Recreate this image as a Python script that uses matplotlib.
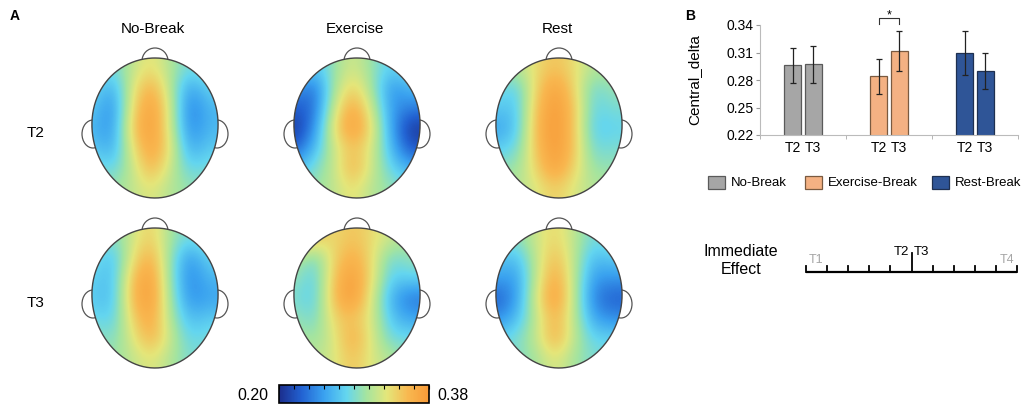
import numpy as np
import matplotlib.pyplot as plt
from matplotlib.colors import LinearSegmentedColormap, Normalize
from matplotlib.patches import Ellipse, PathPatch, Rectangle
from matplotlib.path import Path
from matplotlib.cm import ScalarMappable

plt.rcParams['font.family'] = ['Liberation Sans', 'DejaVu Sans']

## data

conditions = ["No-Break", "Exercise", "Rest"]
sessions = ["T2", "T3"]
legend_labels = ["No-Break", "Exercise-Break", "Rest-Break"]

# panel B : Central_delta means and error bars
central_delta_t2 = [0.296, 0.284, 0.310]
central_delta_t3 = [0.297, 0.312, 0.290]
err_t2 = [0.019, 0.019, 0.024]
err_t3 = [0.0205, 0.022, 0.020]

# timeline
timeline_points = ["T1", "T2", "T3", "T4"]
timeline_steps = 10

# colour scale of the topographies
vmin, vmax = 0.20, 0.38

# topographies (rows : front -> back, cols : left -> right)
topo_nobreak_t2 = [
    [0.300, 0.285, 0.315, 0.335, 0.310, 0.285, 0.300],
    [0.285, 0.255, 0.325, 0.365, 0.315, 0.250, 0.280],
    [0.275, 0.240, 0.335, 0.378, 0.325, 0.235, 0.265],
    [0.265, 0.245, 0.345, 0.380, 0.325, 0.240, 0.265],
    [0.275, 0.255, 0.330, 0.372, 0.335, 0.255, 0.275],
    [0.290, 0.280, 0.315, 0.360, 0.320, 0.280, 0.290],
    [0.305, 0.300, 0.315, 0.330, 0.310, 0.300, 0.295],
]
topo_exercise_t2 = [
    [0.300, 0.270, 0.300, 0.325, 0.300, 0.275, 0.295],
    [0.250, 0.230, 0.305, 0.345, 0.305, 0.245, 0.265],
    [0.225, 0.230, 0.320, 0.370, 0.320, 0.250, 0.240],
    [0.205, 0.245, 0.335, 0.380, 0.335, 0.255, 0.205],
    [0.225, 0.265, 0.320, 0.350, 0.325, 0.265, 0.220],
    [0.265, 0.290, 0.315, 0.362, 0.320, 0.280, 0.260],
    [0.300, 0.300, 0.315, 0.335, 0.310, 0.300, 0.290],
]
topo_rest_t2 = [
    [0.315, 0.310, 0.335, 0.350, 0.335, 0.310, 0.315],
    [0.290, 0.275, 0.340, 0.375, 0.340, 0.285, 0.300],
    [0.275, 0.270, 0.350, 0.380, 0.350, 0.280, 0.290],
    [0.255, 0.270, 0.355, 0.382, 0.350, 0.275, 0.280],
    [0.275, 0.285, 0.350, 0.380, 0.350, 0.285, 0.290],
    [0.300, 0.300, 0.340, 0.375, 0.340, 0.300, 0.300],
    [0.315, 0.310, 0.325, 0.345, 0.325, 0.310, 0.310],
]
topo_nobreak_t3 = [
    [0.305, 0.290, 0.320, 0.345, 0.305, 0.285, 0.300],
    [0.290, 0.265, 0.330, 0.365, 0.300, 0.245, 0.280],
    [0.280, 0.265, 0.350, 0.378, 0.300, 0.240, 0.265],
    [0.275, 0.265, 0.355, 0.380, 0.305, 0.245, 0.255],
    [0.285, 0.275, 0.340, 0.370, 0.310, 0.265, 0.275],
    [0.300, 0.290, 0.325, 0.362, 0.320, 0.280, 0.290],
    [0.305, 0.300, 0.315, 0.330, 0.310, 0.290, 0.290],
]
topo_exercise_t3 = [
    [0.370, 0.350, 0.335, 0.350, 0.335, 0.320, 0.310],
    [0.315, 0.285, 0.340, 0.365, 0.335, 0.285, 0.300],
    [0.300, 0.275, 0.350, 0.378, 0.335, 0.275, 0.280],
    [0.290, 0.275, 0.355, 0.380, 0.325, 0.260, 0.235],
    [0.300, 0.285, 0.340, 0.350, 0.325, 0.270, 0.255],
    [0.310, 0.300, 0.325, 0.365, 0.325, 0.285, 0.285],
    [0.325, 0.310, 0.325, 0.350, 0.325, 0.310, 0.300],
]
topo_rest_t3 = [
    [0.300, 0.295, 0.320, 0.340, 0.315, 0.285, 0.300],
    [0.275, 0.265, 0.315, 0.355, 0.315, 0.265, 0.275],
    [0.255, 0.250, 0.315, 0.370, 0.315, 0.250, 0.250],
    [0.225, 0.250, 0.325, 0.380, 0.315, 0.240, 0.225],
    [0.245, 0.265, 0.315, 0.360, 0.315, 0.255, 0.245],
    [0.280, 0.290, 0.315, 0.365, 0.315, 0.280, 0.280],
    [0.290, 0.290, 0.305, 0.330, 0.305, 0.290, 0.290],
]

topos = [[topo_nobreak_t2, topo_exercise_t2, topo_rest_t2],
         [topo_nobreak_t3, topo_exercise_t3, topo_rest_t3]]

bar_colors = ["#a6a6a6", "#f4b183", "#2f5597"]
edge_colors = ["#5a5a5a", "#7a5a40", "#1f3050"]

cmap = LinearSegmentedColormap.from_list("topo", [
    (0.00, "#1b2d8c"), (0.15, "#2262d2"), (0.30, "#3aa2f0"),
    (0.45, "#64d6ef"), (0.58, "#a4e4a0"), (0.72, "#e4e67a"),
    (0.86, "#f8b850"), (1.00, "#f89a38")])
norm = Normalize(vmin, vmax)


fig = plt.figure(figsize=(10.21, 4.07), dpi=100)

# une couche en pixels pour le panneau A, la légende et la frise
ax0 = fig.add_axes([0, 0, 1, 1])
ax0.set_xlim(0, 1021)
ax0.set_ylim(407, 0)
ax0.axis('off')


def draw_head(ax, cx, cy, grid):
    rx, ry = 63, 70
    for side in (-1, 1):
        ax.add_patch(Ellipse((cx + side * (rx - 1), cy + 6), 22, 28,
                             fc='white', ec='#555555', lw=0.9, zorder=1))
    ax.add_patch(Ellipse((cx, cy - ry + 3), 26, 26,
                         fc='white', ec='#555555', lw=0.9, zorder=1))
    t = np.linspace(0, 2 * np.pi, 300)
    hx = cx + rx * np.sin(t) * (1 + 0.05 * np.cos(t))
    hy = cy - ry * np.cos(t)
    head = PathPatch(Path(np.column_stack([hx, hy])), fc='none',
                     ec='#444444', lw=1.0, zorder=3)
    ax.add_patch(head)
    im = ax.imshow(np.array(grid), cmap=cmap, norm=norm,
                   extent=(cx - rx * 1.06 - 4, cx + rx * 1.06 - 4, cy + ry, cy - ry),
                   interpolation='bicubic', aspect='auto', zorder=2)
    im.set_clip_path(head)


head_x = [155, 357, 559]
head_y = [128, 298]

for j, name in enumerate(conditions):
    ax0.text(head_x[j] - 2, 29, name, ha='center', va='center', fontsize=11)
for i, s in enumerate(sessions):
    ax0.text(36, head_y[i] + 5, s, ha='center', va='center', fontsize=11)
    for j in range(3):
        draw_head(ax0, head_x[j], head_y[i], topos[i][j])

ax0.set_xlim(0, 1021)
ax0.set_ylim(407, 0)

ax0.text(15, 16, "A", ha='center', va='center', fontsize=10, fontweight='bold')
ax0.text(690, 16, "B", ha='center', va='center', fontsize=10, fontweight='bold')

# barre de couleur
cax = fig.add_axes([279 / 1021, (407 - 403) / 407, 150 / 1021, 18 / 407])
cb = fig.colorbar(ScalarMappable(norm=norm, cmap=cmap), cax=cax,
                  orientation='horizontal')
cb.set_ticks(np.linspace(vmin, vmax, 11))
cax.tick_params(axis='x', top=True, bottom=False, direction='in', length=3,
                width=0.8, labelbottom=False, labeltop=False)
cb.outline.set_linewidth(1.2)
ax0.text(268, 396, "%.2f" % vmin, ha='right', va='center', fontsize=11.5)
ax0.text(437, 396, "%.2f" % vmax, ha='left', va='center', fontsize=11.5)

## panneau B : barres
ax = fig.add_axes([760 / 1021, (407 - 135) / 407, 258 / 1021, 110 / 407])
x = np.arange(len(conditions))
ax.bar(x - 0.12, central_delta_t2, 0.2, yerr=err_t2, color=bar_colors,
       edgecolor=edge_colors, linewidth=0.9, capsize=2.5,
       error_kw=dict(elinewidth=0.9, ecolor='#222222', capthick=0.9))
ax.bar(x + 0.12, central_delta_t3, 0.2, yerr=err_t3, color=bar_colors,
       edgecolor=edge_colors, linewidth=0.9, capsize=2.5,
       error_kw=dict(elinewidth=0.9, ecolor='#222222', capthick=0.9))
ax.set_xlim(-0.5, 2.5)
ax.set_ylim(0.22, 0.34)
ax.set_yticks([0.22, 0.25, 0.28, 0.31, 0.34])
ax.set_yticklabels(["0.22", "0.25", "0.28", "0.31", "0.34"], fontsize=10)
ax.set_xticks(np.concatenate([x - 0.12, x + 0.12]))
ax.set_xticklabels(["T2"] * 3 + ["T3"] * 3, fontsize=10)
ax.set_xticks([-0.5, 0.5, 1.5, 2.5], minor=True)
ax.tick_params(axis='x', which='major', length=0, pad=4)
ax.tick_params(axis='x', which='minor', length=3, color='#aaaaaa')
ax.tick_params(axis='y', length=3, color='#999999', pad=1.5)
for sp in ['top', 'right']:
    ax.spines[sp].set_visible(False)
for sp in ['left', 'bottom']:
    ax.spines[sp].set_color('#bbbbbb')
ax.set_ylabel("Central_delta", fontsize=11, labelpad=18)
ax.patch.set_alpha(0)

# étoile : Exercise T2 vs T3
ax.plot([1 - 0.12, 1 - 0.12, 1 + 0.12, 1 + 0.12],
        [0.3411, 0.3476, 0.3476, 0.3411], color='#333333', lw=0.8, clip_on=False)
ax.text(1, 0.3505, "*", ha='center', va='center', fontsize=9)

# légende
leg_x = [708, 805, 932]
for k, lab in enumerate(legend_labels):
    ax0.add_patch(Rectangle((leg_x[k], 176), 17, 13, fc=bar_colors[k],
                            ec=edge_colors[k], lw=0.9))
    ax0.text(leg_x[k] + 23, 182.5, lab, ha='left', va='center', fontsize=9.5)

# frise temporelle
ax0.text(741, 261, "Immediate\nEffect", ha='center', va='center',
         fontsize=11.5, linespacing=1.25)
t0, dt, ty = 806, 21.1, 272
ax0.plot([t0, t0 + timeline_steps * dt], [ty, ty], color='black', lw=1.6,
         solid_capstyle='butt')
for k in range(timeline_steps + 1):
    h = 19 if k == timeline_steps // 2 else 6
    ax0.plot([t0 + k * dt, t0 + k * dt], [ty, ty - h], color='black', lw=1.3)
ax0.text(t0 + 3, 260, timeline_points[0], ha='left', va='center',
         fontsize=9, color='#a6a6a6')
ax0.text(t0 + timeline_steps * dt - 3, 260, timeline_points[3], ha='right',
         va='center', fontsize=9, color='#a6a6a6')
ax0.text(t0 + 5 * dt - 2, 252, timeline_points[1], ha='right', va='center',
         fontsize=9.5)
ax0.text(t0 + 5 * dt + 2, 252, timeline_points[2], ha='left', va='center',
         fontsize=9.5)

fig.savefig("out.png", dpi=100)
